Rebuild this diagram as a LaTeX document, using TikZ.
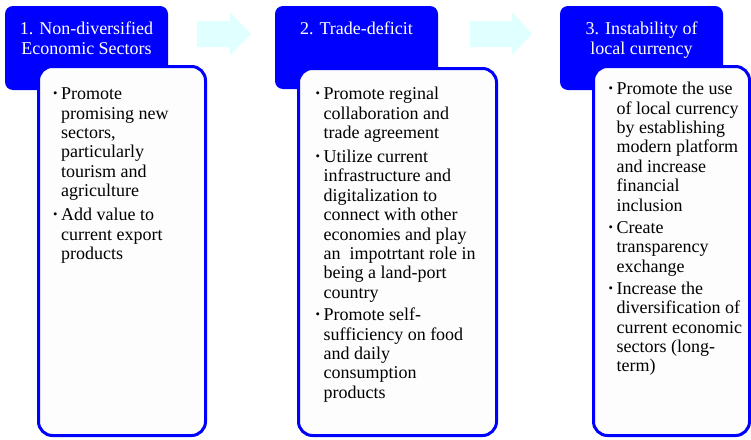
\documentclass[tikz,border=0pt]{standalone}
\usepackage{xcolor}
\usepackage{graphicx}
\usepackage{fontspec}
\setmainfont{Liberation Serif}
\usepackage{tikz}
\usetikzlibrary{positioning}

\definecolor{hdblue}{RGB}{0,0,255}
\definecolor{arrcyan}{RGB}{224,255,255}
\definecolor{bodyfill}{RGB}{253,253,253}
\newcommand{\dotb}{\raisebox{0.25ex}{\scalebox{0.7}{\textbullet}}}

\begin{document}
\begin{tikzpicture}[x=1pt,y=-1pt,
    head/.style={rectangle,rounded corners=8pt,fill=hdblue,inner sep=0pt,
      minimum width=163pt},
    headtext/.style={text=white,align=center,inner sep=0pt,
      font=\fontsize{18}{20}\selectfont},
    body/.style={rectangle,rounded corners=14pt,draw=hdblue,line width=3pt,
      fill=bodyfill,inner sep=0pt},
    bodytext/.style={inner sep=0pt,anchor=north west,
      font=\fontsize{18}{19.4}\selectfont}]
  \useasboundingbox (0,0) rectangle (751,439);
  % Arrows between the headings
  \fill[arrcyan] (197,21) -- (230,21) -- (230,12) -- (251,34) -- (230,55)
    -- (230,47) -- (197,47) -- cycle;
  \fill[arrcyan] (470,21) -- (512,21) -- (512,12) -- (532,34) -- (512,55)
    -- (512,47) -- (470,47) -- cycle;
  % Panel 1: sectors
  \node[head,minimum height=84pt] (h1) at (86.5,48) {};
  \node[headtext,below=16pt of h1.north] (h1txt) {1. Non-diversified\\Economic Sectors};
  \node[body,minimum width=167pt,minimum height=369pt] (b1) at (122,251) {};
  \node[bodytext,below right=21pt and 16pt of b1.north west] (b1txt) {%
    \begin{tabular}{@{}l@{\hspace{3.5pt}}l@{}}
      \dotb & Promote\\
            & promising new\\
            & sectors,\\
            & particularly\\
            & tourism and\\
            & agriculture\\[4.5pt]
      \dotb & Add value to\\
            & current export\\
            & products
    \end{tabular}};
  % Panel 2: trade
  \node[head,minimum height=83pt] (h2) at (356.5,47.5) {};
  \node[headtext,below=16pt of h2.north] (h2txt) {2. Trade-deficit};
  \node[body,minimum width=198pt,minimum height=367pt] (b2) at (397.5,252) {};
  \node[bodytext,below right=19pt and 18.5pt of b2.north west] (b2txt) {%
    \begin{tabular}{@{}l@{\hspace{3.5pt}}l@{}}
      \dotb & Promote reginal\\
            & collaboration and\\
            & trade agreement\\[4.5pt]
      \dotb & Utilize current\\
            & infrastructure and\\
            & digitalization to\\
            & connect with other\\
            & economies and play\\
            & an\ \ impotrtant role in\\
            & being a land-port\\
            & country\\[3pt]
      \dotb & Promote self-\\
            & sufficiency on food\\
            & and daily\\
            & consumption\\
            & products
    \end{tabular}};
  % Panel 3: currency
  \node[head,minimum height=84pt] (h3) at (641.5,48) {};
  \node[headtext,below=16pt of h3.north] (h3txt) {3. Instability of\\local currency};
  \node[body,minimum width=156pt,minimum height=369pt] (b3) at (671.5,251) {};
  \node[bodytext,below right=16pt and 16.5pt of b3.north west] (b3txt) {%
    \begin{tabular}{@{}l@{\hspace{3.5pt}}l@{}}
      \dotb & Promote the use\\
            & of local currency\\
            & by establishing\\
            & modern platform\\
            & and increase\\
            & financial\\
            & inclusion\\[3pt]
      \dotb & Create\\
            & transparency\\
            & exchange\\[2.5pt]
      \dotb & Increase the\\
            & diversification of\\
            & current economic\\
            & sectors (long-\\
            & term)
    \end{tabular}};
\end{tikzpicture}
\end{document}
